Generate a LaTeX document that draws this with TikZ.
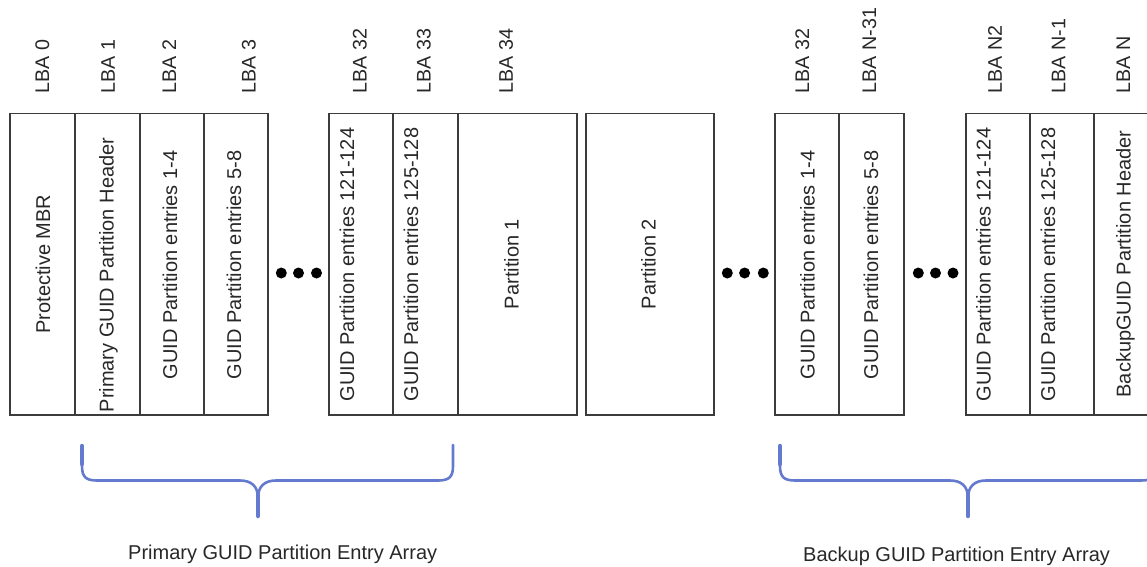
\documentclass[tikz,border=0pt]{standalone}
\usepackage{fontspec}
\setmainfont{Liberation Sans}
\definecolor{boxgray}{RGB}{60,60,60}
\definecolor{txtgray}{RGB}{40,40,40}
\definecolor{braceblue}{RGB}{100,122,206}
\tikzset{
  cell/.style={draw=boxgray, line width=1.3pt, minimum height=301.5pt, inner sep=0pt, outer sep=0pt},
  vtxt/.style={rotate=90, anchor=base, font=\fontsize{20}{24}\selectfont, text=txtgray, inner sep=0pt},
  lba/.style={rotate=90, anchor=base west, font=\fontsize{19.7}{24}\selectfont, text=txtgray, inner sep=0pt},
  captxt/.style={anchor=base west, font=\fontsize{20}{24}\selectfont, text=txtgray, inner sep=0pt},
  bigdot/.style={circle, fill=black, minimum size=11pt, inner sep=0pt},
  brace/.style={draw=braceblue, line width=2.6pt, line cap=round, line join=round},
  bracestem/.style={draw=braceblue, line width=4.2pt, line cap=round},
}
\begin{document}
\begin{tikzpicture}[x=1pt, y=-1pt]
\useasboundingbox (0,0) rectangle (1147,566);
\clip (0,0) rectangle (1147,566);
\fill[white] (0,0) rectangle (1147,566);

% LBA labels
\node[lba] (l0)  at (49,93.3)    {LBA 0};
\node[lba] (l1)  at (114.8,93.3) {LBA 1};
\node[lba] (l2)  at (176,93.3)   {LBA 2};
\node[lba] (l3)  at (255.6,93.3) {LBA 3};
\node[lba] (l32) at (366.6,93.3) {LBA 32};
\node[lba] (l33) at (430.5,93.3) {LBA 33};
\node[lba] (l34) at (512.8,93.3) {LBA 34};
\node[lba] (m32) at (809,93.3)   {LBA 32};
\node[lba] (mn31) at (876,93.3)  {LBA N-31};
\node[lba] (mn2) at (1001.8,93.3) {LBA N2};
\node[lba] (mn1) at (1065.4,93.3) {LBA N-1};
\node[lba] (mn)  at (1130,93.3)  {LBA N};

% boxes
\node[cell, minimum width=65pt]  (a0) at (42.5,264.25)  {};
\node[cell, minimum width=65pt]  (a1) at (107.5,264.25) {};
\node[cell, minimum width=64pt]  (a2) at (172,264.25)   {};
\node[cell, minimum width=64pt]  (a3) at (236,264.25)   {};
\node[cell, minimum width=64pt]  (b0) at (361,264.25)   {};
\node[cell, minimum width=65pt]  (b1) at (425.5,264.25) {};
\node[cell, minimum width=119pt] (b2) at (517.5,264.25) {};
\node[cell, minimum width=128pt] (p2) at (650,264.25)   {};
\node[cell, minimum width=64pt]  (c0) at (807,264.25)   {};
\node[cell, minimum width=65pt]  (c1) at (871.5,264.25) {};
\node[cell, minimum width=64pt]  (d0) at (998,264.25)   {};
\node[cell, minimum width=64pt]  (d1) at (1062,264.25)  {};
\node[cell, minimum width=66pt]  (d2) at (1127,264.25)  {};

% box texts
\node[vtxt] (ta0) at (50,264)     {Protective MBR};
\node[vtxt] (ta1) at (113.7,275)  {Primary GUID Partition Header};
\node[vtxt] (ta2) at (177,265)    {GUID Partition entries 1-4};
\node[vtxt] (ta3) at (241,265)    {GUID Partition entries 5-8};
\node[vtxt] (tb0) at (354,264.5)  {GUID Partition entries 121-124};
\node[vtxt] (tb1) at (418,264.5)  {GUID Partition entries 125-128};
\node[vtxt] (tb2) at (518.5,264)  {Partition 1};
\node[vtxt] (tp2) at (655.5,264)  {Partition 2};
\node[vtxt] (tc0) at (814.6,265)  {GUID Partition entries 1-4};
\node[vtxt] (tc1) at (878,265)    {GUID Partition entries 5-8};
\node[vtxt] (td0) at (990.5,264.5) {GUID Partition entries 121-124};
\node[vtxt] (td1) at (1055,264.5) {GUID Partition entries 125-128};
\node[vtxt] (td2) at (1130.5,264) {BackupGUID Partition Header};

% ellipsis dots
\node[bigdot] (e11) at (281.3,273) {};
\node[bigdot] (e12) at (298.5,273) {};
\node[bigdot] (e13) at (316.5,273) {};
\node[bigdot] (e21) at (727.3,273) {};
\node[bigdot] (e22) at (744.6,273) {};
\node[bigdot] (e23) at (763.3,273) {};
\node[bigdot] (e31) at (918.3,273) {};
\node[bigdot] (e32) at (935.5,273) {};
\node[bigdot] (e33) at (953,273)   {};

% primary brace
\draw[brace] (82,445) -- (82,466) .. controls (82,477) and (86,480.5) .. (97,480.5)
  -- (240,480.5) .. controls (251,480.5) and (258,486) .. (258,498) -- (258,517);
\draw[brace] (453,445) -- (453,466) .. controls (453,477) and (449,480.5) .. (438,480.5)
  -- (276,480.5) .. controls (265,480.5) and (258,486) .. (258,498);
\draw[bracestem] (82,446) -- (82,464);
\draw[bracestem] (258,494) -- (258,516);

% backup brace
\draw[brace] (780,445) -- (780,466) .. controls (780,477) and (784,480.5) .. (795,480.5)
  -- (950,480.5) .. controls (961,480.5) and (968,486) .. (968,498) -- (968,517);
\draw[brace] (1156,445) -- (1156,466) .. controls (1156,477) and (1152,480.5) .. (1141,480.5)
  -- (986,480.5) .. controls (975,480.5) and (968,486) .. (968,498);
\draw[bracestem] (780,446) -- (780,464);
\draw[bracestem] (968,494) -- (968,516);

% captions
\node[captxt] (cp) at (128,559) {Primary GUID Partition Entry Array};
\node[captxt] (cb) at (803,561) {Backup GUID Partition Entry Array};
\end{tikzpicture}
\end{document}
